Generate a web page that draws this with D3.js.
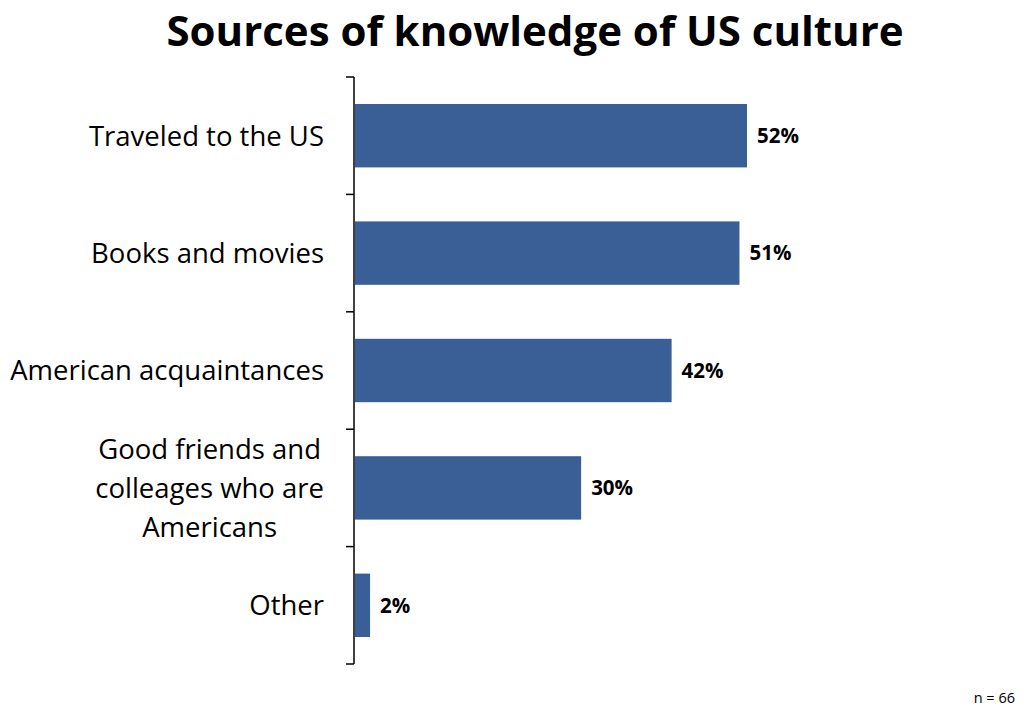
<!DOCTYPE html>
<html>
<head>
<meta charset="utf-8">
<script src="https://cdn.jsdelivr.net/npm/d3@7"></script>
<style>
  body { margin: 0; background: #fff; }
  svg { display: block; }
  text { font-family: "Open Sans", "Liberation Sans", sans-serif; fill: #000; }
</style>
</head>
<body>
<svg id="chart" width="1030" height="711"></svg>
<script>
// Survey responses: where people learned about US culture
const categories = [
  ["Traveled to the US"],
  ["Books and movies"],
  ["American acquaintances"],
  ["Good friends and", "colleages who are", "Americans"],
  ["Other"]
];
const values = [52, 51, 42, 30, 2];
const titleText = "Sources of knowledge of US culture";
const noteText = "n = 66";

const svg = d3.select("#chart");
const axisX = 354, plotTop = 77, plotBottom = 664;

const keys = categories.map((c, i) => i);
const y = d3.scaleBand().domain(keys).range([plotTop, plotBottom]).paddingInner(0.46).paddingOuter(0.23);
const x = d3.scaleLinear().domain([0, 52]).range([axisX + 1, 747]);

// Title
svg.append("text")
  .attr("x", 535).attr("y", 46)
  .attr("text-anchor", "middle")
  .style("font-size", "42px").style("font-weight", "bold")
  .text(titleText);

// Bars
svg.append("g").selectAll("rect")
  .data(values)
  .join("rect")
  .attr("x", x(0))
  .attr("y", (d, i) => y(i))
  .attr("width", d => x(d) - x(0))
  .attr("height", y.bandwidth())
  .attr("fill", "#3A5F97");

// Value labels
svg.append("g").selectAll("text")
  .data(values)
  .join("text")
  .attr("x", d => x(d) + 10)
  .attr("y", (d, i) => y(i) + y.bandwidth() / 2)
  .attr("dy", "0.36em")
  .style("font-size", "20.5px").style("font-weight", "bold")
  .text(d => d + "%");

// Category axis with boundary ticks
const step = (plotBottom - plotTop) / categories.length;
const axisG = svg.append("g");
axisG.append("line")
  .attr("x1", axisX).attr("x2", axisX)
  .attr("y1", plotTop).attr("y2", plotBottom)
  .attr("stroke", "#000").attr("stroke-width", 1.5);
axisG.selectAll("line.tick")
  .data(d3.range(categories.length + 1))
  .join("line")
  .attr("class", "tick")
  .attr("x1", axisX - 8).attr("x2", axisX)
  .attr("y1", i => plotTop + i * step).attr("y2", i => plotTop + i * step)
  .attr("stroke", "#000").attr("stroke-width", 1.5);

// Category labels, centred as a block whose right edge sits left of the axis
const labelRight = 324, lineH = 39;
categories.forEach((lines, i) => {
  const cy = y(i) + y.bandwidth() / 2;
  const t = svg.append("text")
    .style("font-size", "27.5px")
    .attr("text-anchor", "middle");
  const spans = lines.map((ln, j) => t.append("tspan")
    .attr("y", cy + (j - (lines.length - 1) / 2) * lineH)
    .attr("dy", "0.36em")
    .text(ln));
  const maxW = d3.max(spans, s => s.node().getComputedTextLength());
  spans.forEach(s => s.attr("x", labelRight - maxW / 2));
});

// Sample size note
svg.append("text")
  .attr("x", 1015).attr("y", 703)
  .attr("text-anchor", "end")
  .style("font-size", "14.5px")
  .text(noteText);
</script>
</body>
</html>
